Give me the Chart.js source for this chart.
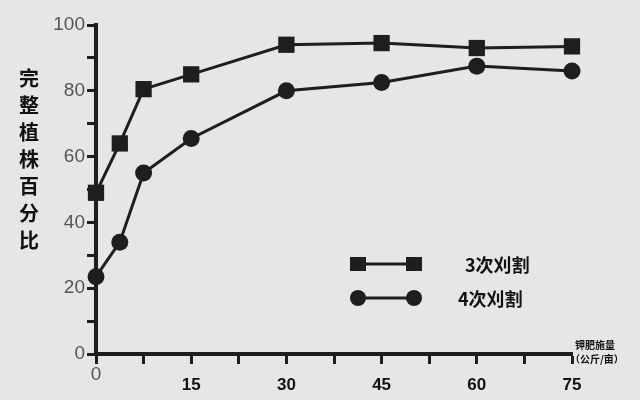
<!DOCTYPE html>
<html>
<head>
<meta charset="utf-8">
<script src="https://cdn.jsdelivr.net/npm/chart.js@4"></script>
<style>
  body { margin: 0; background: #e6e6e6; }
  canvas { display: block; }
</style>
</head>
<body>
<canvas id="potashChart" width="640" height="400"></canvas>
<script>
const potash = [0, 3.75, 7.5, 15, 30, 45, 60, 75];
const cut3 = [49, 64, 80.5, 85, 94, 94.5, 93, 93.5];
const cut4 = [23.5, 34, 55, 65.5, 80, 82.5, 87.5, 86];
const seriesNames = ["3次刈割", "4次刈割"];
const xTickLabels = [0, 15, 30, 45, 60, 75];
const yTitle = ["完", "整", "植", "株", "百", "分", "比"];
const xUnit = ["钾肥施量", "（公斤/亩）"];

const ink = "#1e1e1e";
const cjk = '"Noto Sans CJK SC", "Noto Sans", sans-serif';

function points(values) {
  return potash.map((x, i) => ({ x: x, y: values[i] }));
}

// draws everything that the built-in axes/legend cannot lay out like the scan
const extras = {
  id: "extras",
  afterDraw(chart) {
    const ctx = chart.ctx;
    const xs = chart.scales.x;
    ctx.save();

    // x tick labels, "0" sits higher than the rest
    ctx.textAlign = "center";
    ctx.textBaseline = "middle";
    for (const v of xTickLabels) {
      const px = xs.getPixelForValue(v);
      if (v === 0) {
        ctx.font = "19px 'Liberation Sans', Arial, sans-serif";
        ctx.fillStyle = "#555";
        ctx.fillText(String(v), px, 375);
      } else {
        ctx.font = "bold 17px 'Liberation Sans', Arial, sans-serif";
        ctx.fillStyle = "#111";
        ctx.fillText(String(v), px, 385);
      }
    }

    // vertical y title
    ctx.font = "bold 20px " + cjk;
    ctx.fillStyle = "#111";
    yTitle.forEach((ch, i) => ctx.fillText(ch, 29, 78 + i * 27));

    // x unit
    ctx.font = "bold 10px " + cjk;
    ctx.textAlign = "left";
    ctx.fillText(xUnit[0], 575, 345);
    ctx.fillText(xUnit[1], 570, 359);

    // legend: line with a marker at each end
    const rows = [264, 298];
    chart.data.datasets.forEach((ds, i) => {
      const y = rows[i];
      ctx.strokeStyle = ink;
      ctx.fillStyle = ink;
      ctx.lineWidth = 3;
      ctx.beginPath();
      ctx.moveTo(358, y);
      ctx.lineTo(414, y);
      ctx.stroke();
      for (const cx of [358, 414]) {
        if (ds.pointStyle === "rect") {
          ctx.fillRect(cx - 8, y - 7, 16, 14);
        } else {
          ctx.beginPath();
          ctx.arc(cx, y, 8, 0, Math.PI * 2);
          ctx.fill();
        }
      }
      ctx.font = "bold 18px " + cjk;
      ctx.fillStyle = "#111";
      ctx.fillText(ds.label, i === 0 ? 465 : 458, y + 1);
    });

    ctx.restore();
  },
};

const ctx = document.getElementById("potashChart").getContext("2d");
const potashChart = new Chart(ctx, {
  type: "line",
  data: {
    datasets: [
      {
        label: seriesNames[0],
        data: points(cut3),
        borderColor: ink,
        backgroundColor: ink,
        borderWidth: 3,
        pointStyle: "rect",
        pointRadius: 11.5,
        pointBorderWidth: 0,
        clip: false,
      },
      {
        label: seriesNames[1],
        data: points(cut4),
        borderColor: ink,
        backgroundColor: ink,
        borderWidth: 3,
        pointStyle: "circle",
        pointRadius: 8.5,
        pointBorderWidth: 0,
        clip: false,
      },
    ],
  },
  options: {
    responsive: false,
    animation: false,
    layout: { padding: { top: 25, right: 68, left: 0, bottom: 0 } },
    plugins: {
      legend: { display: false },
      tooltip: { enabled: false },
    },
    scales: {
      x: {
        type: "linear",
        min: 0,
        max: 75,
        ticks: { stepSize: 7.5, autoSkip: false, callback: () => "" },
        grid: {
          drawOnChartArea: false,
          drawTicks: true,
          tickLength: 10,
          tickWidth: 3,
          tickColor: ink,
        },
        border: { color: ink, width: 4 },
        afterFit: (scale) => { scale.height = 46; },
      },
      y: {
        min: 0,
        max: 100,
        ticks: {
          stepSize: 10,
          autoSkip: false,
          padding: 2,
          color: "#555",
          font: { family: "'Liberation Sans', Arial, sans-serif", size: 19 },
          callback: (v) => (v % 20 === 0 ? v : ""),
        },
        grid: {
          drawOnChartArea: false,
          drawTicks: true,
          tickLength: 9,
          tickWidth: 3,
          tickColor: ink,
        },
        border: { color: ink, width: 4 },
        afterFit: (scale) => { scale.width = 96; },
      },
    },
  },
  plugins: [extras],
});
</script>
</body>
</html>
